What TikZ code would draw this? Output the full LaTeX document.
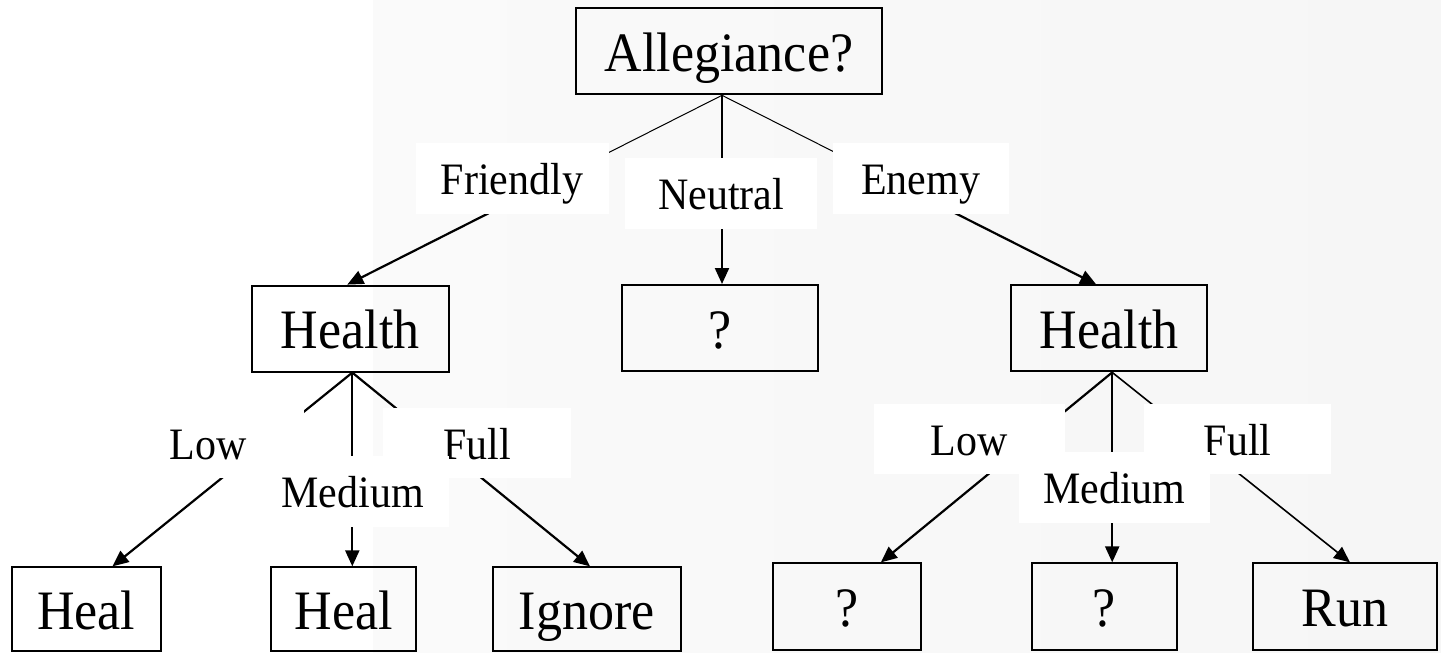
\documentclass[tikz,border=0pt]{standalone}
\usepackage{fontspec}
\setmainfont{Liberation Serif}
\usetikzlibrary{arrows.meta,calc}
\definecolor{bgleft}{RGB}{250,250,250}
\definecolor{bgright}{RGB}{246,246,246}
% slightly tall lettering
\newcommand{\tallword}[1]{\scalebox{1}[1.07]{#1}}
\begin{document}
\begin{tikzpicture}[x=1pt,y=-1pt,
  dbox/.style={draw=black,line width=2pt,inner sep=0pt,minimum height=86pt,
    font=\fontsize{52}{60}\selectfont,text height=40pt,text depth=0pt},
  leafbox/.style={dbox},
  lbl/.style={fill=white,inner sep=0pt,minimum height=70.5pt,
    font=\fontsize{42}{48}\selectfont,text height=32pt,text depth=0pt},
  thinedge/.style={line width=1pt},
  thickedge/.style={line width=2.2pt},
  tip/.style={-{Triangle[length=16pt,width=14pt]}}]

% page and shaded panel
\fill[white] (0,0) rectangle (1441,653);
\shade[left color=bgleft,right color=bgright] (373,0) rectangle (1441,653);

% decision boxes
\node[dbox,minimum width=306pt] (alg) at (729,51.3) {\tallword{Allegiance?}};
\node[dbox,minimum width=196.6pt] (hl) at (350.3,328.6) {\tallword{Health}};
\node[dbox,minimum width=196pt] (nq) at (720,328) {\tallword{?}};
\node[dbox,minimum width=196.4pt] (hr) at (1109.2,328.4) {\tallword{Health}};

% leaf boxes
\node[leafbox,minimum width=149pt,minimum height=83.7pt] (l1) at (86.1,609.2) {\tallword{Heal}};
\node[leafbox,minimum width=145pt,minimum height=83.7pt] (l2) at (343.9,609.2) {\tallword{Heal}};
\node[leafbox,minimum width=188pt,minimum height=83.7pt] (l3) at (586.8,609.2) {\tallword{Ignore}};
\node[leafbox,minimum width=148pt,minimum height=86.7pt] (r1) at (846.9,606.7) {\tallword{?}};
\node[leafbox,minimum width=145pt,minimum height=86.7pt] (r2) at (1104.2,606.7) {\tallword{?}};
\node[leafbox,minimum width=184pt,minimum height=86.7pt] (r3) at (1345,606.7) {\tallword{Run}};

% branch points
\coordinate (aA) at ([xshift=-7pt]alg.south);
\coordinate (hA) at ([xshift=2pt]hl.south);
\coordinate (rA) at ([xshift=3pt]hr.south);
\coordinate (fT) at ([xshift=-3pt]hl.north);
\coordinate (eT) at ([xshift=-13pt]hr.north);

% allegiance branches: thin above the label, heavier below it
\draw[thinedge] (aA) -- ($(aA)!0.45!(fT)$);
\draw[thickedge,tip] ($(aA)!0.45!(fT)$) -- (fT);
\draw[thinedge] (aA) -- ($(aA)!0.45!(eT)$);
\draw[thickedge,tip] ($(aA)!0.45!(eT)$) -- (eT);
\draw[thickedge,tip] (aA) -- (aA |- nq.north);

% left health branches
\draw[thickedge,tip] (hA) -- ([xshift=26.4pt]l1.north);
\draw[thickedge,tip] (hA) -- (hA |- l2.north);
\draw[thickedge,tip] (hA) -- ([xshift=3.2pt]l3.north);

% right health branches
\draw[thickedge,tip] (rA) -- ([xshift=34pt]r1.north);
\draw[thickedge,tip] (rA) -- (rA |- r2.north);
\draw[line width=1.6pt,tip] (rA) -- ([xshift=5pt]r3.north);

% branch labels
\node[lbl,minimum width=193pt] (lfr) at (512,178.3) {\tallword{Friendly}};
\node[lbl,minimum width=192pt,minimum height=71pt] (lne) at (721.2,193.8) {\tallword{Neutral}};
\node[lbl,minimum width=176pt] (len) at (920.7,178.3) {\tallword{Enemy}};

\node[lbl,minimum width=192pt] (lhl) at (208,443) {\tallword{Low}};
\node[lbl,minimum width=188pt] (lhf) at (477.2,443) {\tallword{Full}};
\node[lbl,minimum width=192pt] (lhm) at (352.8,491.3) {\tallword{Medium}};

\node[lbl,minimum width=191pt] (rhl) at (969.4,439.2) {\tallword{Low}};
\node[lbl,minimum width=187.5pt] (rhf) at (1237.7,439.2) {\tallword{Full}};
\node[lbl,minimum width=191pt,minimum height=71pt] (rhm) at (1114.3,487.2) {\tallword{Medium}};

\useasboundingbox (0,0) rectangle (1441,653);
\end{tikzpicture}
\end{document}
